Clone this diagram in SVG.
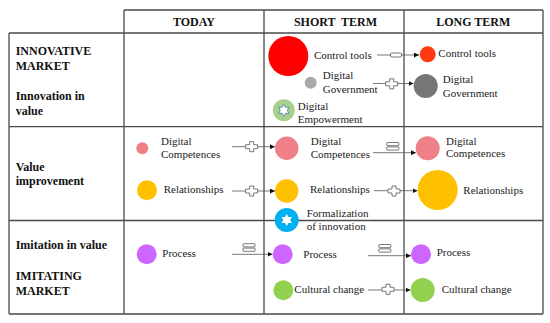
<svg xmlns="http://www.w3.org/2000/svg" xmlns:xlink="http://www.w3.org/1999/xlink" width="550" height="323" viewBox="0 0 550 323">
<style>
.grid{stroke:#4a4a4a;stroke-width:1.3;fill:none}
.hd{font-family:"Liberation Serif","Times New Roman",serif;font-weight:bold;font-size:12px;fill:#111}
.lb{font-family:"Liberation Serif","Times New Roman",serif;font-size:11px;fill:#222}
.cn{stroke:#555;stroke-width:0.8;fill:none;marker-end:url(#ah)}
.ic{fill:#fff;stroke:#555;stroke-width:0.8}
</style>
<defs>
<marker id="ah" viewBox="0 0 6 6" refX="6" refY="3" markerWidth="5" markerHeight="5" markerUnits="userSpaceOnUse" orient="auto"><path d="M0,0 L6,3 L0,6 Z" fill="#111"/></marker>
<path id="plus" d="M-2,-5 h4 v3 h4 v4 h-4 v3 h-4 v-3 h-4 v-4 h4 z"/>
<g id="eq"><rect x="-6" y="-3.8" width="12" height="3.2" rx="0.5"/><rect x="-6" y="0.6" width="12" height="3.2" rx="0.5"/></g>
<rect id="minus" x="-5.5" y="-2" width="11" height="4" rx="1"/>
<path id="star" d="M0,-6 L1.73,-3 L5.2,-3 L3.46,0 L5.2,3 L1.73,3 L0,6 L-1.73,3 L-5.2,3 L-3.46,0 L-5.2,-3 L-1.73,-3 Z"/>
</defs>
<rect width="550" height="323" fill="#fff"/>
<g id="table" class="grid">
<line x1="124" y1="10" x2="543" y2="10"/>
<line x1="9" y1="33" x2="543" y2="33"/>
<line x1="9" y1="126.7" x2="543" y2="126.7"/>
<line x1="9" y1="220.5" x2="543" y2="220.5"/>
<line x1="9" y1="314" x2="543" y2="314"/>
<line x1="9" y1="33" x2="9" y2="314"/>
<line x1="124" y1="10" x2="124" y2="314"/>
<line x1="264" y1="10" x2="264" y2="314"/>
<line x1="404" y1="10" x2="404" y2="314"/>
<line x1="543" y1="10" x2="543" y2="314"/>
</g>
<g id="headers">
<text class="hd" x="194" y="26" text-anchor="middle">TODAY</text>
<text class="hd" x="335.5" y="26" text-anchor="middle" xml:space="preserve">SHORT  TERM</text>
<text class="hd" x="473.3" y="26" text-anchor="middle">LONG TERM</text>
</g>
<g id="row-labels">
<text class="hd" x="15.7" y="55">INNOVATIVE</text>
<text class="hd" x="15.7" y="69.5">MARKET</text>
<text class="hd" x="15.7" y="100">Innovation in</text>
<text class="hd" x="15.7" y="114.5">value</text>
<text class="hd" x="15.7" y="170.7">Value</text>
<text class="hd" x="15.7" y="185">improvement</text>
<text class="hd" x="15.7" y="249.3">Imitation in value</text>
<text class="hd" x="15.7" y="280">IMITATING</text>
<text class="hd" x="15.7" y="295">MARKET</text>
</g>
<g id="connectors">
<line class="cn" x1="377" y1="55" x2="419" y2="55"/>
<line class="cn" x1="373" y1="83.5" x2="413.5" y2="83.5"/>
<line class="cn" x1="232" y1="146.7" x2="275" y2="146.7"/>
<line class="cn" x1="232" y1="191" x2="275" y2="191"/>
<line class="cn" x1="373" y1="152.7" x2="416" y2="152.7"/>
<line class="cn" x1="374" y1="190.7" x2="417.5" y2="190.7"/>
<line class="cn" x1="232" y1="254.3" x2="272.5" y2="254.3"/>
<line class="cn" x1="368" y1="255.7" x2="411" y2="255.7"/>
<line class="cn" x1="368" y1="290" x2="410.5" y2="290"/>
<use href="#minus" class="ic" x="396" y="55"/>
<use href="#plus" class="ic" x="391.7" y="83.8"/>
<use href="#plus" class="ic" x="251.7" y="146.7"/>
<use href="#plus" class="ic" x="251.7" y="191"/>
<use href="#eq" class="ic" x="392.8" y="146.3"/>
<use href="#plus" class="ic" x="394" y="191"/>
<use href="#eq" class="ic" x="249" y="247.5"/>
<use href="#eq" class="ic" x="384.8" y="248.3"/>
<use href="#plus" class="ic" x="388" y="289.3"/>
</g>
<g id="st-control-tools"><circle cx="288.3" cy="56" r="20" fill="#ff0000"/><text class="lb" x="314" y="58.5">Control tools</text></g>
<g id="lt-control-tools"><circle cx="427.7" cy="54.3" r="8" fill="#ff3a10"/><text class="lb" x="438.3" y="57">Control tools</text></g>
<g id="st-digital-government"><circle cx="310.7" cy="82.7" r="6" fill="#aaaaaa"/><text class="lb" x="322.7" y="79">Digital</text><text class="lb" x="322.7" y="93">Government</text></g>
<g id="lt-digital-government"><circle cx="425.7" cy="86" r="12" fill="#767676"/><text class="lb" x="442.7" y="83">Digital</text><text class="lb" x="442.7" y="96.7">Government</text></g>
<g id="st-digital-empowerment"><circle cx="283.8" cy="110.3" r="11" fill="#a9d18e"/><use href="#star" x="283.8" y="110.3" fill="#fff" stroke="#2f6fb0" stroke-width="0.7"/><text class="lb" x="297.7" y="110">Digital</text><text class="lb" x="297.7" y="122.7">Empowerment</text></g>
<g id="td-digital-competences"><circle cx="142.3" cy="148.3" r="6" fill="#f08088"/><text class="lb" x="161" y="145">Digital</text><text class="lb" x="161" y="157.7">Competences</text></g>
<g id="st-digital-competences"><circle cx="286.7" cy="148.3" r="11.7" fill="#f08088"/><text class="lb" x="310.7" y="145">Digital</text><text class="lb" x="310.7" y="157.7">Competences</text></g>
<g id="lt-digital-competences"><circle cx="427.7" cy="148.3" r="12" fill="#f08088"/><text class="lb" x="446" y="144.5">Digital</text><text class="lb" x="446" y="157.3">Competences</text></g>
<g id="td-relationships"><circle cx="147" cy="190.3" r="10" fill="#ffc000"/><text class="lb" x="163.7" y="192.7">Relationships</text></g>
<g id="st-relationships"><circle cx="286.7" cy="191" r="11.7" fill="#ffc000"/><text class="lb" x="310" y="192.7">Relationships</text></g>
<g id="lt-relationships"><circle cx="437.7" cy="190" r="20" fill="#ffc000"/><text class="lb" x="463.3" y="194">Relationships</text></g>
<g id="st-formalization"><circle cx="286.7" cy="220" r="12" fill="#00b0f0"/><use href="#star" x="286.7" y="220" fill="#fff"/><text class="lb" x="306.7" y="217.3">Formalization</text><text class="lb" x="306.7" y="230.3">of innovation</text></g>
<g id="td-process"><circle cx="146.7" cy="254.3" r="10" fill="#cc66ff"/><text class="lb" x="162.3" y="257.3">Process</text></g>
<g id="st-process"><circle cx="282.7" cy="254.3" r="10" fill="#cc66ff"/><text class="lb" x="303.3" y="257.7">Process</text></g>
<g id="lt-process"><circle cx="421" cy="254.3" r="10" fill="#cc66ff"/><text class="lb" x="436.7" y="256">Process</text></g>
<g id="st-cultural-change"><circle cx="283.3" cy="290.3" r="10" fill="#92d050"/><text class="lb" x="294.3" y="293.3">Cultural change</text></g>
<g id="lt-cultural-change"><circle cx="422.7" cy="290" r="12" fill="#92d050"/><text class="lb" x="441.7" y="293.3">Cultural change</text></g>
</svg>
